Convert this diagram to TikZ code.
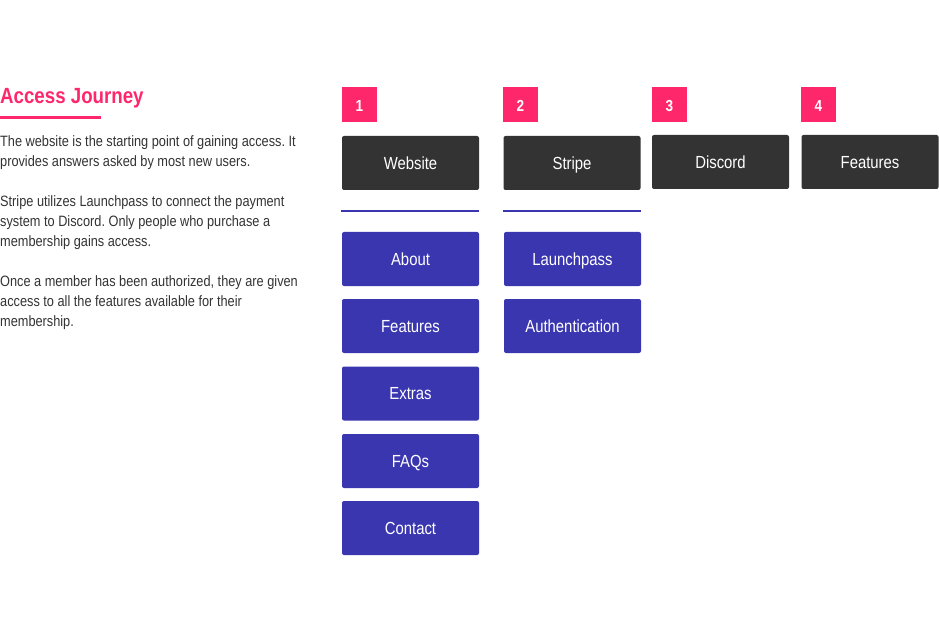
\documentclass[tikz,border=0pt]{standalone}
\usepackage{fontspec}
\setmainfont{Liberation Sans}[FakeStretch=0.85]
\frenchspacing
\definecolor{accent}{HTML}{FF276B}
\definecolor{boxdark}{HTML}{333333}
\definecolor{boxblue}{HTML}{3A36B0}
\definecolor{bodytext}{HTML}{333333}
\tikzset{
  numbox/.style={fill=accent, minimum width=35pt, minimum height=35pt, inner sep=0pt,
    text height=15pt, text depth=0pt,
    text=white, font=\fontsize{16}{18}\selectfont\bfseries},
  darkbox/.style={fill=boxdark, rounded corners=2pt, minimum width=137pt, minimum height=54pt,
    inner sep=0pt, text height=12.6pt, text depth=0pt, text=white, font=\fontsize{17.5}{20}\selectfont},
  bluebox/.style={fill=boxblue, rounded corners=2pt, minimum width=137pt, minimum height=54pt,
    inner sep=0pt, text height=12.6pt, text depth=0pt, text=white, font=\fontsize{17.5}{20}\selectfont},
  bodyline/.style={anchor=base west, inner sep=0pt, text=bodytext, font=\fontsize{15}{20}\selectfont},
  divider/.style={draw=boxblue, line width=2pt},
}
\begin{document}
\begin{tikzpicture}[x=1pt,y=-1pt]
\useasboundingbox (0,0) rectangle (939,644);
% title
\node[anchor=base west, inner sep=0pt, text=accent, font=\fontsize{22}{26}\selectfont\bfseries] (title) at (0,104) {Access Journey};
\coordinate (ula) at (0,118);
\coordinate (ulb) at (101,118);
\draw[accent, line width=3pt] (ula) -- (ulb);
% body text
\node[bodyline] (p1a) at (0,146.7) {The website is the starting point of gaining access. It};
\node[bodyline] (p1b) at (0,166.7) {provides answers asked by most new users.};
\node[bodyline] (p2a) at (0,206.7) {Stripe utilizes Launchpass to connect the payment};
\node[bodyline] (p2b) at (0,226.7) {system to Discord. Only people who purchase a};
\node[bodyline] (p2c) at (0,246.7) {membership gains access.};
\node[bodyline] (p3a) at (0,286.7) {Once a member has been authorized, they are given};
\node[bodyline] (p3b) at (0,306.7) {access to all the features available for their};
\node[bodyline] (p3c) at (0,326.7) {membership.};
% number boxes
\node[numbox] (n1) at (359.5,104.5) {1};
\node[numbox] (n2) at (520.5,104.5) {2};
\node[numbox] (n3) at (669.5,104.5) {3};
\node[numbox] (n4) at (818.5,104.5) {4};
% dark boxes
\node[darkbox] (website) at (410.5,163) {Website};
\node[darkbox] (stripe) at (572,163) {Stripe};
\node[darkbox] (discord) at (720.5,162) {Discord};
\node[darkbox] (features) at (870,162) {Features};
% dividers
\coordinate (d1a) at (341,211);
\coordinate (d1b) at (479,211);
\coordinate (d2a) at (503,211);
\coordinate (d2b) at (641,211);
\draw[divider] (d1a) -- (d1b);
\draw[divider] (d2a) -- (d2b);
% blue boxes
\node[bluebox] (about) at (410.5,259) {About};
\node[bluebox] (feat1) at (410.5,326) {Features};
\node[bluebox] (extras) at (410.5,393.5) {Extras};
\node[bluebox] (faqs) at (410.5,461) {FAQs};
\node[bluebox] (contact) at (410.5,528) {Contact};
\node[bluebox] (launch) at (572.5,259) {Launchpass};
\node[bluebox] (auth) at (572.5,326) {Authentication};
\end{tikzpicture}
\end{document}
